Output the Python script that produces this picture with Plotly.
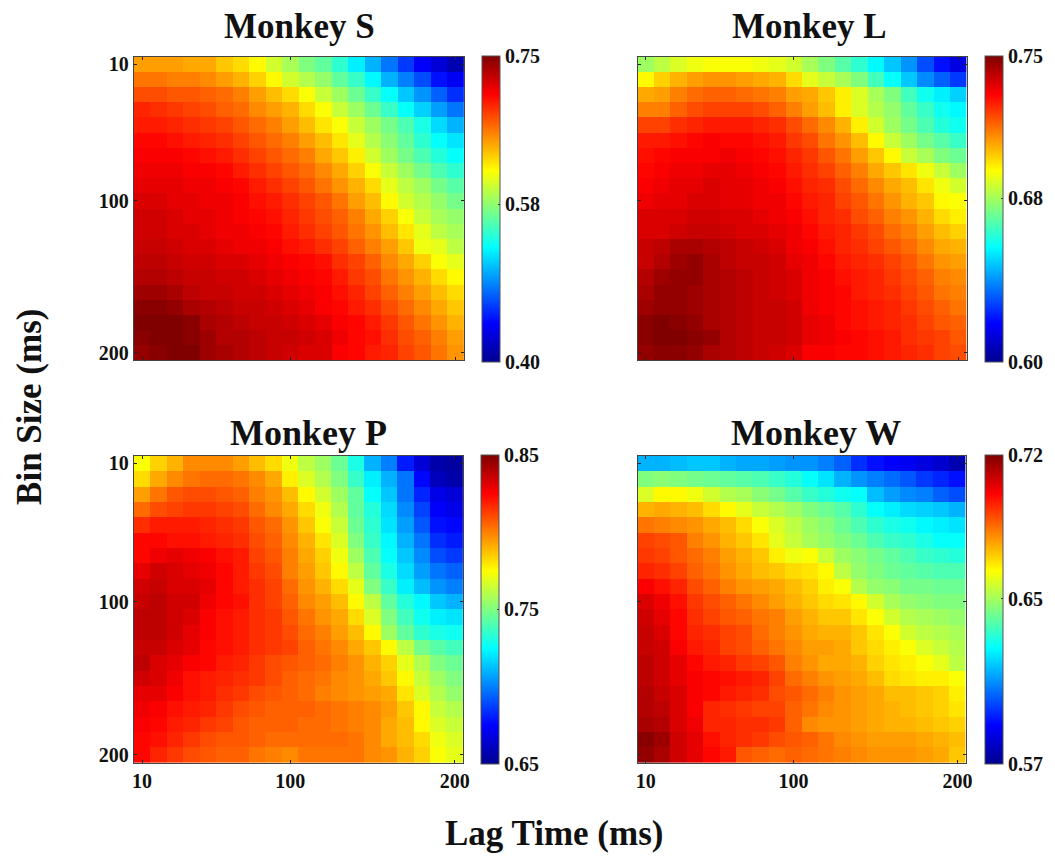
import numpy as np
import plotly.graph_objects as go

WIDTH, HEIGHT = 1055, 858

# Axis categories (ms) shared by every panel
lag_time = list(range(10, 210, 10))
bin_size = list(range(10, 210, 10))
tick_values = [10, 100, 200]

# Each row below is read from the picture as a position on that panel's colour
# bar (0 = bottom of the bar, 100 = top) and converted to the bar's units below.
monkey_s_read = [
    [72,72,72,71,71,68,66,63,58,54,50,47,42,36,30,24,18,12,8,4],
    [76,76,75,75,74,72,70,67,63,58,55,52,47,43,37,30,25,20,14,11],
    [80,80,79,79,78,77,75,72,69,66,62,57,53,48,43,38,32,27,22,17],
    [84,83,82,81,80,78,77,74,72,70,66,62,57,53,48,43,38,33,28,24],
    [85,85,84,83,82,81,79,77,75,72,69,65,62,57,53,49,45,40,34,30],
    [87,87,86,85,84,83,81,79,77,75,72,69,65,60,55,51,47,42,38,35],
    [88,88,88,87,86,85,83,81,79,77,75,71,68,64,58,53,49,45,41,38],
    [89,89,89,88,88,87,85,83,81,79,77,74,71,67,62,57,53,49,45,42],
    [90,90,90,89,89,88,87,85,83,81,79,76,73,70,66,60,56,53,49,46],
    [91,91,90,90,89,89,88,86,85,83,81,79,76,72,69,63,58,55,52,49],
    [92,92,91,90,90,89,88,87,86,84,82,80,78,75,71,67,62,57,54,52],
    [92,92,91,91,90,89,89,88,87,85,83,81,79,76,73,69,65,60,56,54],
    [93,93,92,91,91,90,89,89,88,86,85,83,81,78,75,72,68,61,60,56],
    [94,94,93,92,92,91,91,90,89,88,87,86,83,81,78,74,71,67,62,60],
    [95,95,94,93,93,92,92,91,90,89,88,87,85,82,80,76,73,70,66,63],
    [97,97,96,94,93,93,92,92,91,90,89,88,86,84,81,78,75,72,69,66],
    [99,99,98,96,95,94,93,93,92,91,90,88,87,85,83,80,77,74,71,68],
    [100,100,100,99,96,95,94,93,93,92,91,90,88,87,85,82,79,76,73,70],
    [99,100,100,99,97,95,95,94,93,93,92,91,89,87,86,83,80,78,75,72],
    [98,99,100,100,97,96,95,94,93,92,91,91,88,87,85,84,81,79,76,73],
]
monkey_l_read = [
    [53,56,59,61,62,62,62,61,60,58,54,50,46,42,37,32,27,20,14,9],
    [63,67,70,72,73,73,72,71,70,66,60,57,54,50,44,38,32,26,22,18],
    [71,72,75,77,78,78,77,76,75,72,71,68,64,59,54,50,44,39,36,33],
    [75,75,78,80,81,81,81,80,78,75,72,69,64,59,55,52,47,43,39,37],
    [81,81,83,84,85,85,85,84,83,80,77,74,70,64,58,53,49,45,41,39],
    [85,85,86,87,88,87,87,86,85,82,80,76,73,69,63,57,53,49,46,43],
    [86,87,88,88,88,89,88,87,86,84,82,79,76,72,68,63,57,54,50,48],
    [87,88,89,89,90,90,89,88,87,85,83,81,78,75,71,68,65,61,57,53],
    [88,89,90,90,91,90,90,89,88,86,84,83,80,77,74,71,69,65,61,58],
    [89,90,90,91,91,90,90,89,89,87,85,84,81,79,76,73,70,68,63,62],
    [91,91,91,92,92,91,91,90,89,88,86,84,83,80,78,75,73,70,66,64],
    [91,91,92,93,93,92,91,91,90,89,87,85,84,82,80,77,75,72,69,67],
    [93,94,96,96,95,94,93,92,91,89,88,86,84,83,81,79,77,74,71,70],
    [93,95,97,98,96,94,93,93,92,90,89,87,85,84,83,81,79,76,73,72],
    [95,97,98,98,96,95,94,93,92,91,89,88,86,85,84,82,80,78,75,74],
    [96,98,98,97,96,95,94,93,92,91,89,88,87,85,84,83,81,79,76,75],
    [97,98,98,97,96,95,94,93,93,92,89,88,87,86,85,84,82,80,78,76],
    [99,100,99,98,96,95,94,93,93,92,90,89,87,86,85,84,83,81,79,78],
    [99,100,100,99,98,95,94,93,93,92,90,89,88,87,86,85,83,82,81,79],
    [98,99,99,98,96,95,94,93,92,91,88,88,87,87,86,85,84,83,81,80],
]
monkey_p_read = [
    [62,67,70,74,74,74,72,69,66,61,56,53,48,40,30,25,15,8,3,2],
    [66,71,74,76,77,77,76,74,71,64,59,55,50,43,36,30,24,13,5,3],
    [72,76,79,80,80,79,78,75,73,69,63,58,53,47,38,32,24,16,10,8],
    [77,80,81,82,82,81,80,77,74,71,66,61,55,47,41,34,26,19,12,10],
    [83,85,85,85,84,83,82,79,77,73,68,62,57,48,42,35,28,21,14,13],
    [87,87,86,86,85,84,83,80,78,74,70,65,59,50,43,37,30,24,17,15],
    [87,89,90,89,88,86,85,81,79,75,71,67,61,53,45,38,32,26,20,18],
    [90,92,91,90,89,87,85,82,80,75,72,68,63,56,47,40,34,28,24,22],
    [92,93,91,91,90,87,85,83,81,77,73,70,66,60,50,43,36,31,27,25],
    [93,94,92,92,89,87,86,83,81,78,74,72,69,63,56,47,41,37,32,30],
    [94,94,92,91,88,86,85,83,82,79,76,73,71,66,59,50,44,39,36,35],
    [94,94,92,90,88,86,85,83,82,80,77,75,72,69,63,53,47,42,40,39],
    [93,93,91,90,87,86,85,83,82,81,78,76,74,71,68,63,56,49,46,44],
    [94,91,90,88,87,85,84,82,80,79,78,77,75,73,70,67,60,55,50,48],
    [92,91,89,86,85,84,83,82,80,78,77,76,74,73,71,68,63,57,53,50],
    [90,90,88,86,85,83,82,80,79,78,77,75,74,73,72,71,65,59,55,52],
    [89,88,86,85,84,82,80,79,78,78,78,77,76,75,74,72,68,63,57,55],
    [88,87,85,84,82,81,79,78,78,78,77,77,76,75,74,71,69,63,59,57],
    [87,86,84,82,80,79,79,78,77,77,77,77,77,76,74,71,69,66,61,59],
    [87,84,82,80,79,78,78,76,75,74,76,76,76,76,74,73,70,67,62,60],
]
monkey_w_read = [
    [30,30,31,32,32,30,29,29,28,27,27,25,22,17,14,12,11,9,7,4],
    [50,51,50,49,48,47,46,45,43,41,38,35,30,27,25,23,21,18,16,14],
    [59,63,63,61,58,55,54,51,49,46,43,41,39,38,31,28,26,25,22,20],
    [70,71,70,69,66,63,60,57,55,53,50,48,46,42,38,36,34,33,32,30],
    [76,75,74,73,71,69,66,62,59,56,53,51,48,45,42,40,39,37,36,35],
    [81,80,79,75,73,70,68,65,60,57,54,52,50,48,45,43,42,40,38,38],
    [82,81,79,77,75,72,70,68,64,61,62,57,53,51,49,47,45,43,42,41],
    [84,83,81,78,76,73,71,69,68,66,65,63,56,52,50,48,47,46,45,45],
    [88,86,84,80,78,75,73,72,71,69,67,64,62,55,52,51,49,49,48,48],
    [91,89,86,82,80,78,76,74,72,70,68,66,65,63,58,54,52,51,50,50],
    [92,90,87,83,81,79,78,76,75,72,70,68,68,65,62,58,55,54,53,52],
    [93,91,87,84,83,81,80,77,75,73,71,70,70,68,65,62,58,56,55,54],
    [93,92,88,85,84,81,80,78,76,74,72,72,71,68,66,64,62,59,57,55],
    [94,92,90,87,85,84,82,81,79,75,73,71,71,70,67,65,64,62,60,56],
    [94,92,90,88,87,86,85,84,81,77,75,73,72,71,69,66,65,64,64,62],
    [95,93,91,88,87,85,84,83,80,79,77,75,73,72,71,69,69,68,67,64],
    [95,94,91,88,84,83,82,81,81,78,76,74,73,72,71,70,69,68,67,65],
    [96,95,91,89,84,84,83,83,82,78,74,73,73,72,71,70,70,69,68,67],
    [99,97,92,90,86,84,83,82,80,79,78,76,74,73,72,72,72,71,70,69],
    [98,96,92,90,87,85,79,78,77,78,77,76,75,74,73,73,73,72,71,68],
]

titles = ["Monkey S", "Monkey L", "Monkey P", "Monkey W"]
scale_ticks = [[0.40, 0.58, 0.75], [0.60, 0.68, 0.75], [0.65, 0.75, 0.85], [0.57, 0.65, 0.72]]
readings = [monkey_s_read, monkey_l_read, monkey_p_read, monkey_w_read]

jet = [[0, "#00008f"], [0.125, "#0000ff"], [0.375, "#00ffff"], [0.625, "#ffff00"],
       [0.875, "#ff0000"], [1, "#800000"]]

# Layout in pixels: (left, right, top, bottom, colour-bar left, title x, title y, title size)
panels = [
    (133, 466, 54, 360, 484, 300, 24, 35),
    (641, 973, 54, 360, 991, 814, 24, 35),
    (133, 465, 456, 765, 483, 309, 433, 36),
    (641, 972, 456, 765, 991, 821, 433, 36),
]

FONT = "Liberation Serif"
INK = "#111111"
tick_font = dict(family=FONT, size=20, color=INK)


def px(x):
    return x / WIDTH


def py(y):
    return 1 - y / HEIGHT


fig = go.Figure()
layout_axes = {}
annotations = []

for i, (read, ticks, title, box) in enumerate(zip(readings, scale_ticks, titles, panels)):
    left, right, top, bottom, bar_left, title_x, title_y, title_size = box
    suffix = "" if i == 0 else str(i + 1)
    vmin, vmax = ticks[0], ticks[-1]
    z = vmin + np.array(read) / 100 * (vmax - vmin)
    fig.add_trace(go.Heatmap(
        x=lag_time, y=bin_size, z=z,
        xaxis="x" + suffix, yaxis="y" + suffix,
        zmin=vmin, zmax=vmax, colorscale=jet, zsmooth=False,
        colorbar=dict(
            x=px(bar_left), xanchor="left", xpad=0,
            y=py((top + bottom) / 2), yanchor="middle", ypad=0,
            lenmode="pixels", len=bottom - top,
            thicknessmode="pixels", thickness=18,
            outlinewidth=1, outlinecolor="#555555",
            tickmode="array", tickvals=ticks,
            ticktext=[f"<b>{t:.2f}</b>" for t in ticks],
            ticks="inside", ticklen=2, tickcolor="#333333", tickwidth=1,
            tickfont=tick_font,
        ),
    ))
    common = dict(
        showgrid=False, zeroline=False, showline=True, mirror="ticks",
        linecolor="#444444", linewidth=1,
        ticks="inside", ticklen=3, tickcolor="#222222", tickwidth=1,
        tickmode="array", tickvals=tick_values,
        ticktext=[f"<b>{t}</b>" for t in tick_values],
        tickfont=tick_font,
    )
    layout_axes["xaxis" + suffix] = dict(
        common, domain=[px(left), px(right)], anchor="y" + suffix,
        range=[5, 205], showticklabels=i >= 2,
    )
    layout_axes["yaxis" + suffix] = dict(
        common, domain=[py(bottom), py(top)], anchor="x" + suffix,
        range=[205, 5], showticklabels=i % 2 == 0,
    )
    annotations.append(dict(
        text=f"<b>{title}</b>", x=px(title_x), y=py(title_y), xref="paper", yref="paper",
        xanchor="center", yanchor="middle", showarrow=False,
        font=dict(family=FONT, size=title_size, color=INK),
    ))

annotations.append(dict(
    text="<b>Bin Size (ms)</b>", x=px(27), y=py(407), xref="paper", yref="paper",
    textangle=-90, xanchor="center", yanchor="middle", showarrow=False,
    font=dict(family=FONT, size=35, color=INK),
))
annotations.append(dict(
    text="<b>Lag Time (ms)</b>", x=px(557), y=py(836), xref="paper", yref="paper",
    xanchor="center", yanchor="middle", showarrow=False,
    font=dict(family=FONT, size=35, color=INK),
))

fig.update_layout(
    width=WIDTH, height=HEIGHT, autosize=False,
    margin=dict(l=0, r=0, t=0, b=0),
    paper_bgcolor="white", plot_bgcolor="white",
    annotations=annotations, showlegend=False,
    **layout_axes,
)
fig.write_html("out.html", config=dict(displayModeBar=False),
               post_script="document.body.style.margin = '0';")
